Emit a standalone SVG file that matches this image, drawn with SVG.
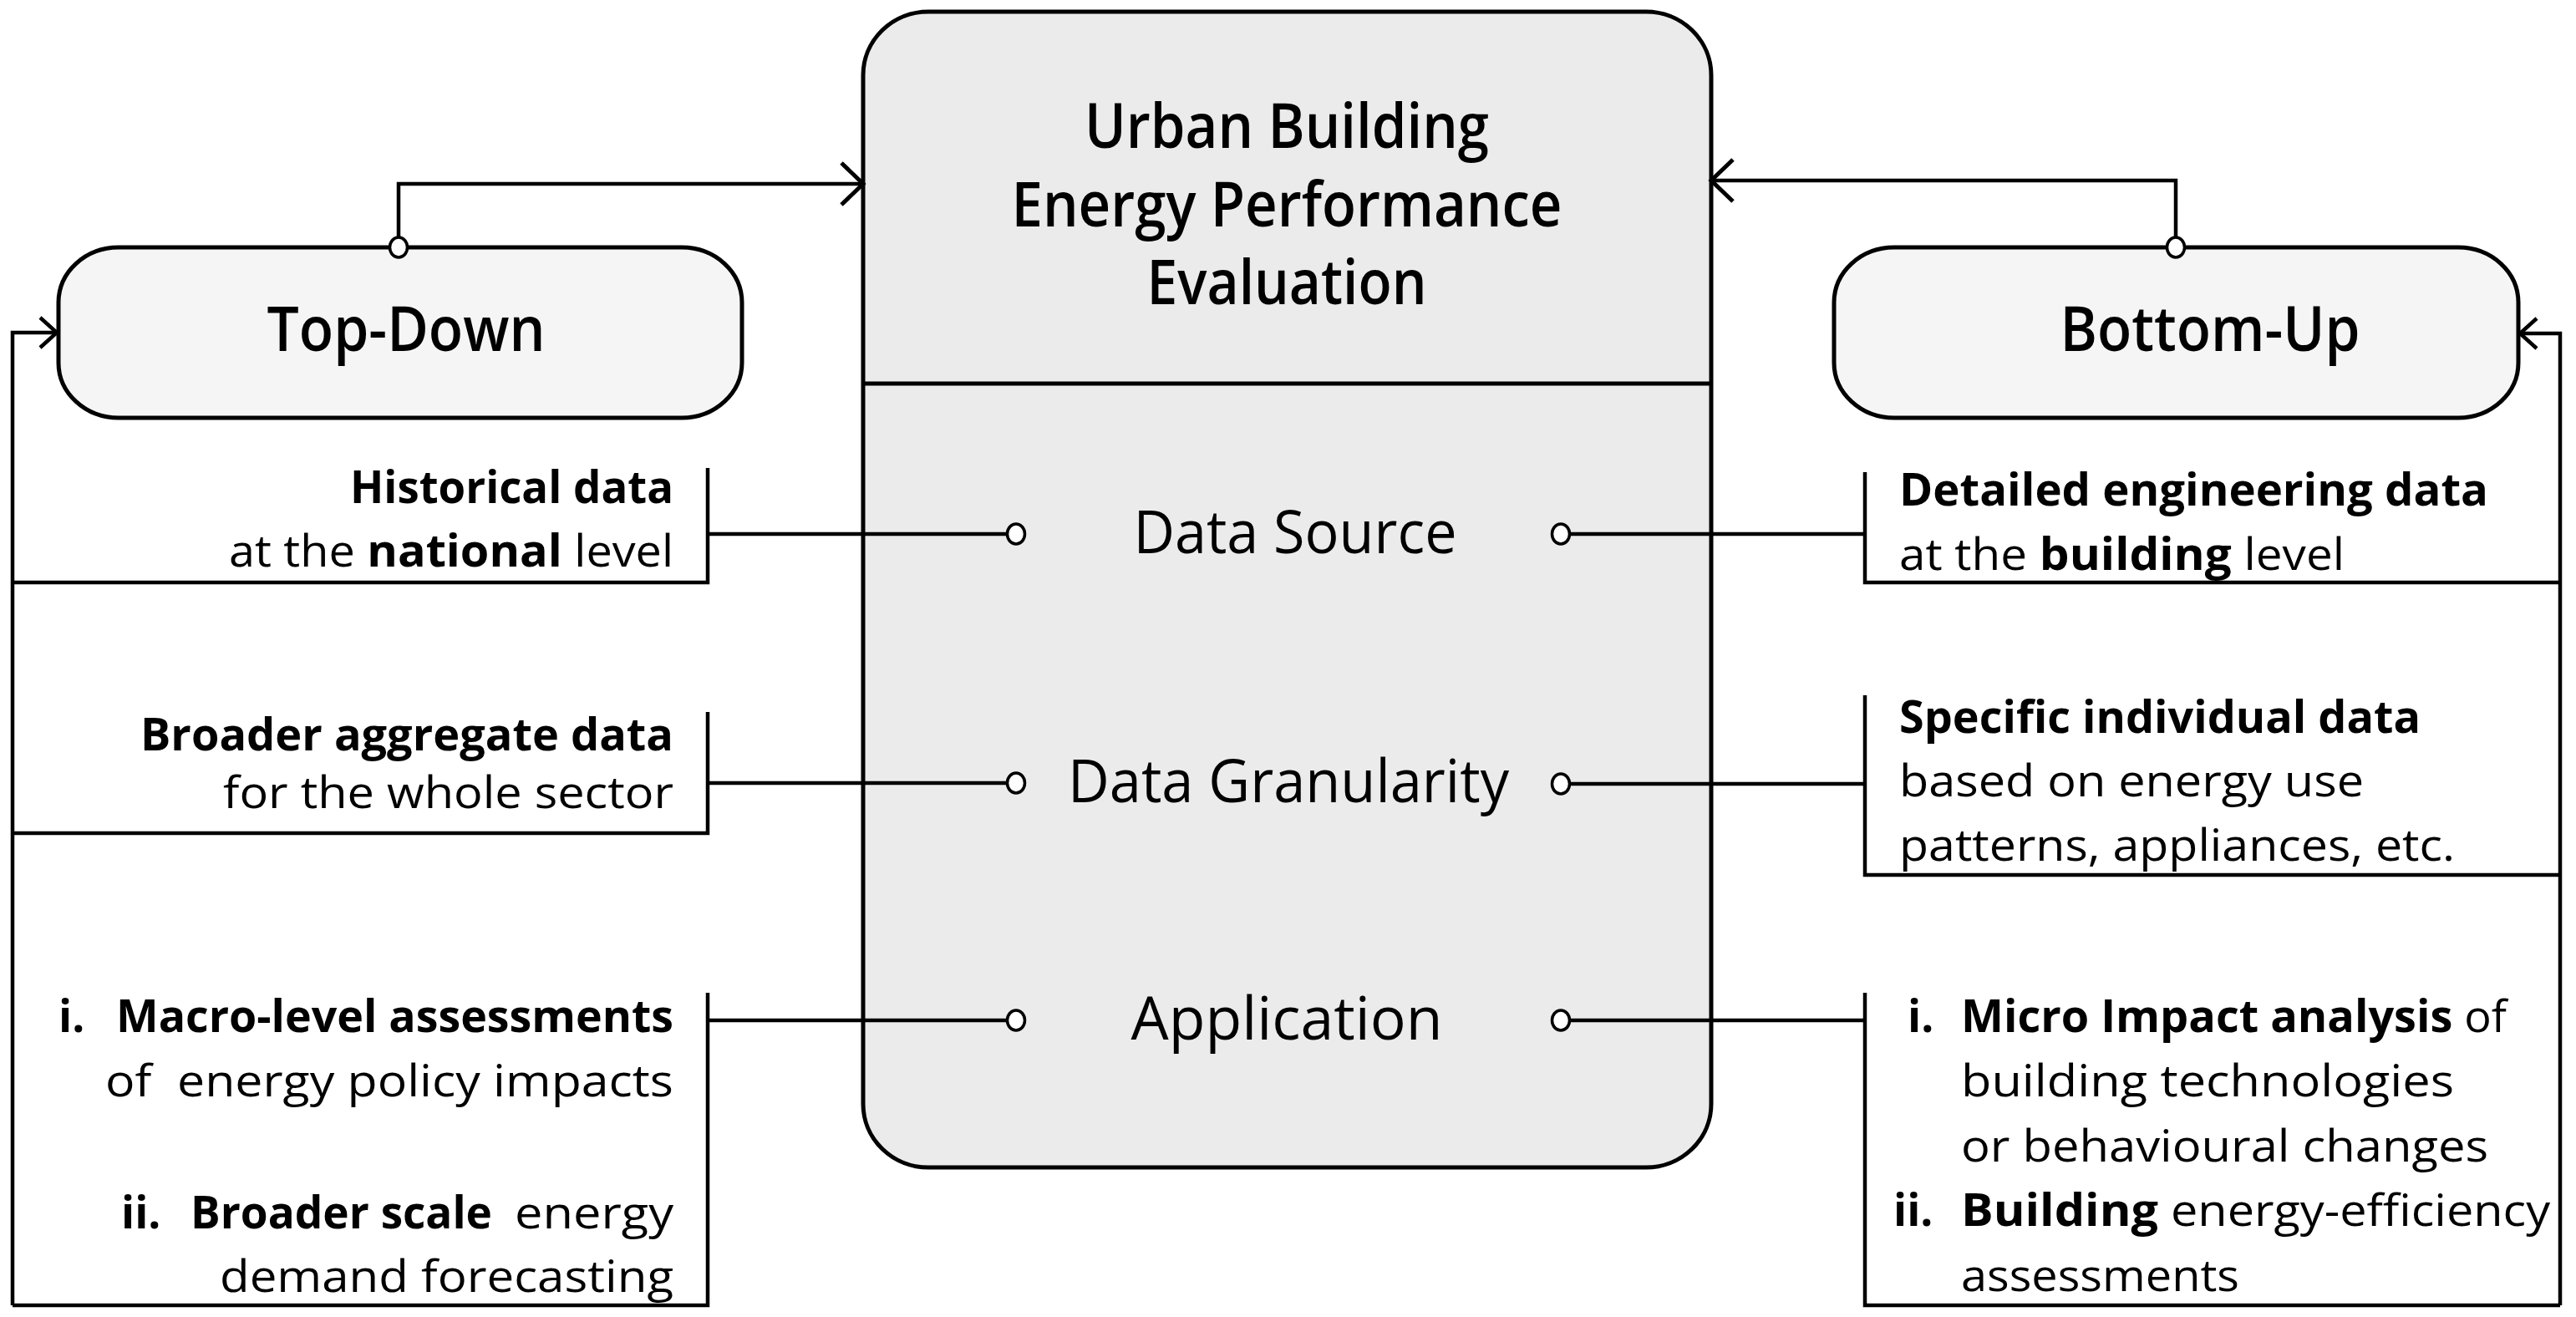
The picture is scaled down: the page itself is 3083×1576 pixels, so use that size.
<svg xmlns="http://www.w3.org/2000/svg" width="3083" height="1576" viewBox="0 0 3083 1576">
<style>
text{font-family:"Open Sans","Noto Sans","Liberation Sans",sans-serif;fill:#000}
.b{font-weight:700}
.r{font-weight:400}
.body{font-size:53px}
.lbl{font-size:71px;font-weight:400}
.ttl{font-size:74px;font-weight:600}
.box{stroke:#000;stroke-width:5}
.ln{fill:none;stroke:#000;stroke-width:4.5}
.dot{fill:#fff;stroke:#000;stroke-width:3.5}
</style>
<defs>
<marker id="aBig" markerUnits="userSpaceOnUse" viewBox="-32 -30 36 60" markerWidth="36" markerHeight="60" refX="0" refY="0" orient="auto" overflow="visible">
<path d="M-26,-25 L0,0 L-26,25" fill="none" stroke="#000" stroke-width="5"/>
</marker>
<marker id="aSmall" markerUnits="userSpaceOnUse" viewBox="-26 -24 30 48" markerWidth="30" markerHeight="48" refX="0" refY="0" orient="auto" overflow="visible">
<path d="M-20,-18 L0,0 L-20,18" fill="none" stroke="#000" stroke-width="4.5"/>
</marker>
</defs>
<rect width="3083" height="1576" fill="#fff"/>

<g id="central">
<rect class="box" x="1033" y="14" width="1015" height="1383" rx="78" ry="76" fill="#ebebeb"/>
<line x1="1033" y1="459" x2="2048" y2="459" stroke="#000" stroke-width="5"/>
<text class="ttl" x="1540" y="177" text-anchor="middle" textLength="484" lengthAdjust="spacingAndGlyphs">Urban Building</text>
<text class="ttl" x="1540" y="271" text-anchor="middle" textLength="659" lengthAdjust="spacingAndGlyphs">Energy Performance</text>
<text class="ttl" x="1540" y="364" text-anchor="middle" textLength="335" lengthAdjust="spacingAndGlyphs">Evaluation</text>
<text class="lbl" x="1550" y="662" text-anchor="middle" textLength="387" lengthAdjust="spacingAndGlyphs">Data Source</text>
<text class="lbl" x="1542" y="960" text-anchor="middle" textLength="528" lengthAdjust="spacingAndGlyphs">Data Granularity</text>
<text class="lbl" x="1540" y="1244" text-anchor="middle" textLength="373" lengthAdjust="spacingAndGlyphs">Application</text>
</g>

<g id="top-down">
<rect class="box" x="70" y="296" width="818" height="204" rx="72" ry="66" fill="#f5f5f5"/>
<text class="ttl" x="486" y="420" text-anchor="middle" font-size="75" textLength="333" lengthAdjust="spacingAndGlyphs">Top-Down</text>
</g>

<g id="bottom-up">
<rect class="box" x="2195" y="296" width="819" height="204" rx="72" ry="66" fill="#f5f5f5"/>
<text class="ttl" x="2645" y="420" text-anchor="middle" font-size="75" textLength="359" lengthAdjust="spacingAndGlyphs">Bottom-Up</text>
</g>

<g id="td-source">
<text class="body b" x="806" y="602" text-anchor="end" textLength="387" lengthAdjust="spacingAndGlyphs">Historical data</text>
<text class="body r" x="806" y="678" text-anchor="end" textLength="532" lengthAdjust="spacingAndGlyphs">at the <tspan class="b">national</tspan> level</text>
</g>
<g id="td-granularity">
<text class="body b" x="806" y="898" text-anchor="end" textLength="638" lengthAdjust="spacingAndGlyphs">Broader aggregate data</text>
<text class="body r" x="806" y="967" text-anchor="end" textLength="539" lengthAdjust="spacingAndGlyphs">for the whole sector</text>
</g>
<g id="td-application">
<text class="body b" x="70" y="1235">i.</text>
<text class="body b" x="806" y="1235" text-anchor="end" textLength="667" lengthAdjust="spacingAndGlyphs">Macro-level assessments</text>
<text class="body r" x="806" y="1312" text-anchor="end" textLength="680" lengthAdjust="spacingAndGlyphs">of&#160; energy policy impacts</text>
<text class="body b" x="145" y="1470">ii.</text>
<text class="body b" x="228" y="1470" textLength="361" lengthAdjust="spacingAndGlyphs">Broader scale</text>
<text class="body r" x="806" y="1470" text-anchor="end" textLength="190" lengthAdjust="spacingAndGlyphs">energy</text>
<text class="body r" x="806" y="1546" text-anchor="end" textLength="543" lengthAdjust="spacingAndGlyphs">demand forecasting</text>
</g>

<g id="bu-source">
<text class="body b" x="2273" y="605" textLength="705" lengthAdjust="spacingAndGlyphs">Detailed engineering data</text>
<text class="body r" x="2273" y="682" textLength="533" lengthAdjust="spacingAndGlyphs">at the <tspan class="b">building</tspan> level</text>
</g>
<g id="bu-granularity">
<text class="body b" x="2273" y="877" textLength="624" lengthAdjust="spacingAndGlyphs">Specific individual data</text>
<text class="body r" x="2273" y="953" textLength="556" lengthAdjust="spacingAndGlyphs">based on energy use</text>
<text class="body r" x="2273" y="1030" textLength="665" lengthAdjust="spacingAndGlyphs">patterns, appliances, etc.</text>
</g>
<g id="bu-application">
<text class="body b" x="2283" y="1235">i.</text>
<text class="body b" x="2347" y="1235" textLength="653" lengthAdjust="spacingAndGlyphs">Micro Impact analysis<tspan class="r"> of</tspan></text>
<text class="body r" x="2347" y="1312" textLength="590" lengthAdjust="spacingAndGlyphs">building technologies</text>
<text class="body r" x="2347" y="1390" textLength="631" lengthAdjust="spacingAndGlyphs">or behavioural changes</text>
<text class="body b" x="2266" y="1467">ii.</text>
<text class="body b" x="2347" y="1467" textLength="705" lengthAdjust="spacingAndGlyphs">Building<tspan class="r"> energy-efficiency</tspan></text>
<text class="body r" x="2347" y="1545" textLength="333" lengthAdjust="spacingAndGlyphs">assessments</text>
</g>

<g id="connectors">
<path class="ln" d="M477,284 V220 H1033" marker-end="url(#aBig)"/>
<path class="ln" d="M2604,284 V216 H2048" marker-end="url(#aBig)"/>
<path class="ln" d="M15,1562 V398 H68" marker-end="url(#aSmall)"/>
<path class="ln" d="M3064,1562 V399 H3016" marker-end="url(#aSmall)"/>
<path class="ln" d="M15,697 H847 V560"/>
<path class="ln" d="M15,997 H847 V852"/>
<path class="ln" d="M15,1562 H847 V1188"/>
<path class="ln" d="M3064,697 H2232 V565"/>
<path class="ln" d="M3064,1047 H2232 V832"/>
<path class="ln" d="M3064,1562 H2232 V1188"/>
<path class="ln" d="M847,639 H1205"/>
<path class="ln" d="M847,937 H1205"/>
<path class="ln" d="M847,1221 H1205"/>
<path class="ln" d="M2232,639 H1879"/>
<path class="ln" d="M2232,938 H1879"/>
<path class="ln" d="M2232,1221 H1879"/>
<ellipse class="dot" cx="477" cy="296" rx="10.5" ry="12"/>
<ellipse class="dot" cx="2604" cy="296" rx="10.5" ry="12"/>
<ellipse class="dot" cx="1216" cy="639" rx="10.5" ry="12"/>
<ellipse class="dot" cx="1216" cy="937" rx="10.5" ry="12"/>
<ellipse class="dot" cx="1216" cy="1221" rx="10.5" ry="12"/>
<ellipse class="dot" cx="1868" cy="639" rx="10.5" ry="12"/>
<ellipse class="dot" cx="1868" cy="938" rx="10.5" ry="12"/>
<ellipse class="dot" cx="1868" cy="1221" rx="10.5" ry="12"/>
</g>
</svg>
